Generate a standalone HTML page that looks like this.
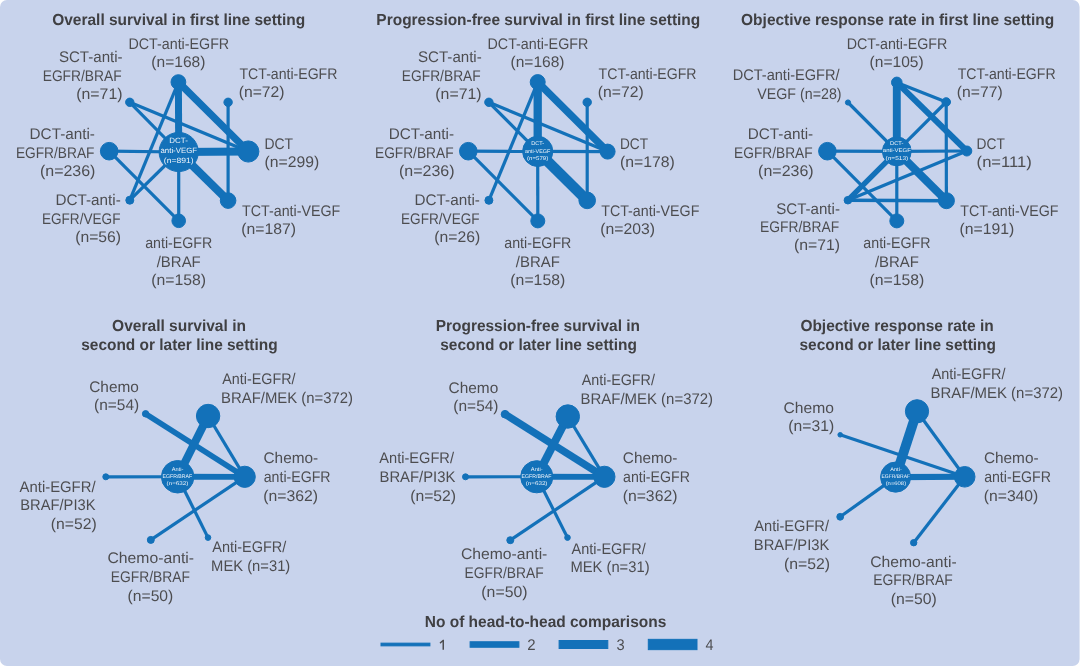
<!DOCTYPE html>
<html><head><meta charset="utf-8"><title>Network plots</title>
<style>
html,body{margin:0;padding:0;background:#ffffff;}
body{width:1080px;height:666px;overflow:hidden;font-family:"Liberation Sans",sans-serif;}
svg{display:block;will-change:transform;transform:translateZ(0);}
text{font-family:"Liberation Sans",sans-serif;text-rendering:geometricPrecision;}
.l{font-size:15.4px;fill:#4d4d50;}
.t{font-size:16px;font-weight:bold;fill:#404043;}
.c{fill:#eef4fb;}
</style></head><body>
<svg width="1080" height="666" viewBox="0 0 1080 666">
<rect x="0" y="0" width="1079.6" height="666" rx="7" ry="7" fill="#c8d3ec"/>
<g stroke="#1371b9" fill="#1371b9" stroke-linecap="butt">
<line x1="178.4" y1="82.1" x2="178.7" y2="152.0" stroke-width="7.0"/>
<line x1="178.4" y1="82.1" x2="248.3" y2="151.5" stroke-width="7.2"/>
<line x1="178.7" y1="152.0" x2="248.3" y2="151.5" stroke-width="8.1"/>
<line x1="178.7" y1="152.0" x2="228.1" y2="200.6" stroke-width="8.1"/>
<line x1="178.4" y1="82.1" x2="129.8" y2="200.2" stroke-width="3.2"/>
<line x1="129.8" y1="102.3" x2="248.3" y2="151.5" stroke-width="3.2"/>
<line x1="129.8" y1="102.3" x2="178.7" y2="152.0" stroke-width="3.2"/>
<line x1="228.1" y1="102.3" x2="228.1" y2="200.6" stroke-width="3.2"/>
<line x1="109.2" y1="151.2" x2="178.7" y2="152.0" stroke-width="3.2"/>
<line x1="109.2" y1="151.2" x2="178.7" y2="220.8" stroke-width="3.2"/>
<line x1="129.8" y1="200.2" x2="178.7" y2="152.0" stroke-width="3.2"/>
<line x1="178.7" y1="152.0" x2="178.7" y2="220.8" stroke-width="3.2"/>
<circle cx="178.4" cy="82.1" r="7.4"/>
<circle cx="129.8" cy="102.3" r="4.2"/>
<circle cx="228.1" cy="102.3" r="4.2"/>
<circle cx="109.2" cy="151.2" r="8.8"/>
<circle cx="178.7" cy="152.0" r="19.6"/>
<circle cx="248.3" cy="151.5" r="10.6"/>
<circle cx="129.8" cy="200.2" r="4.0"/>
<circle cx="228.1" cy="200.6" r="7.8"/>
<circle cx="178.7" cy="220.8" r="6.8"/>
<line x1="537.7" y1="82.1" x2="537.7" y2="151.4" stroke-width="8.3"/>
<line x1="537.7" y1="82.1" x2="607.6" y2="151.6" stroke-width="7.4"/>
<line x1="537.7" y1="151.4" x2="607.6" y2="151.6" stroke-width="3.2"/>
<line x1="537.7" y1="151.4" x2="587.2" y2="200.4" stroke-width="10.6"/>
<line x1="537.7" y1="82.1" x2="488.9" y2="200.3" stroke-width="3.2"/>
<line x1="488.9" y1="102.3" x2="607.6" y2="151.6" stroke-width="3.2"/>
<line x1="488.9" y1="102.3" x2="537.7" y2="151.4" stroke-width="3.2"/>
<line x1="587.2" y1="102.3" x2="587.2" y2="200.4" stroke-width="3.2"/>
<line x1="468.3" y1="151.2" x2="537.7" y2="151.4" stroke-width="3.2"/>
<line x1="468.3" y1="151.2" x2="537.8" y2="220.9" stroke-width="3.2"/>
<line x1="537.7" y1="151.4" x2="537.8" y2="220.9" stroke-width="3.2"/>
<circle cx="537.7" cy="82.1" r="7.5"/>
<circle cx="488.9" cy="102.3" r="4.2"/>
<circle cx="587.2" cy="102.3" r="4.2"/>
<circle cx="468.3" cy="151.2" r="8.8"/>
<circle cx="537.7" cy="151.4" r="15.1"/>
<circle cx="607.6" cy="151.6" r="7.5"/>
<circle cx="488.9" cy="200.3" r="4.0"/>
<circle cx="587.2" cy="200.4" r="8.3"/>
<circle cx="537.8" cy="220.9" r="7.0"/>
<line x1="896.8" y1="82.4" x2="896.8" y2="151.4" stroke-width="7.9"/>
<line x1="896.8" y1="82.4" x2="966.8" y2="151.0" stroke-width="6.0"/>
<line x1="896.8" y1="82.4" x2="946.2" y2="102.0" stroke-width="3.2"/>
<line x1="946.2" y1="102.0" x2="896.8" y2="151.4" stroke-width="3.2"/>
<line x1="946.2" y1="102.0" x2="946.4" y2="200.7" stroke-width="3.2"/>
<line x1="848.0" y1="102.5" x2="896.8" y2="151.4" stroke-width="3.2"/>
<line x1="827.4" y1="151.2" x2="896.8" y2="151.4" stroke-width="3.2"/>
<line x1="827.4" y1="151.2" x2="896.8" y2="220.9" stroke-width="3.2"/>
<line x1="896.8" y1="151.4" x2="966.8" y2="151.0" stroke-width="3.2"/>
<line x1="896.8" y1="151.4" x2="946.4" y2="200.7" stroke-width="8.1"/>
<line x1="847.9" y1="200.2" x2="896.8" y2="151.4" stroke-width="5.4"/>
<line x1="847.9" y1="200.2" x2="966.8" y2="151.0" stroke-width="3.2"/>
<line x1="847.9" y1="200.2" x2="946.4" y2="200.7" stroke-width="3.6"/>
<line x1="896.8" y1="151.4" x2="896.8" y2="220.9" stroke-width="3.2"/>
<circle cx="896.8" cy="82.4" r="5.3"/>
<circle cx="848.0" cy="102.5" r="2.6"/>
<circle cx="946.2" cy="102.0" r="4.3"/>
<circle cx="827.4" cy="151.2" r="8.8"/>
<circle cx="896.8" cy="151.4" r="14.4"/>
<circle cx="966.8" cy="151.0" r="5.0"/>
<circle cx="847.9" cy="200.2" r="3.8"/>
<circle cx="946.4" cy="200.7" r="8.0"/>
<circle cx="896.8" cy="220.9" r="7.0"/>
<line x1="145.6" y1="413.8" x2="244.7" y2="476.8" stroke-width="5.6"/>
<line x1="208.1" y1="416.0" x2="177.65" y2="476.75" stroke-width="8.1"/>
<line x1="208.1" y1="416.0" x2="244.7" y2="476.8" stroke-width="3.2"/>
<line x1="177.65" y1="476.75" x2="244.7" y2="476.8" stroke-width="5.8"/>
<line x1="105.8" y1="476.8" x2="177.65" y2="476.75" stroke-width="3.2"/>
<line x1="150.8" y1="539.9" x2="244.7" y2="476.8" stroke-width="3.2"/>
<line x1="177.65" y1="476.75" x2="208.0" y2="537.6" stroke-width="3.2"/>
<circle cx="145.6" cy="413.8" r="3.2"/>
<circle cx="208.1" cy="416.0" r="11.7"/>
<circle cx="177.65" cy="476.75" r="16.25"/>
<circle cx="244.7" cy="476.8" r="10.6"/>
<circle cx="105.8" cy="476.8" r="3.0"/>
<circle cx="150.8" cy="539.9" r="3.5"/>
<circle cx="208.0" cy="537.6" r="2.8"/>
<line x1="505.0" y1="414.2" x2="604.4" y2="476.8" stroke-width="7.4"/>
<line x1="567.8" y1="416.5" x2="536.75" y2="476.75" stroke-width="8.1"/>
<line x1="567.8" y1="416.5" x2="604.4" y2="476.8" stroke-width="3.2"/>
<line x1="536.75" y1="476.75" x2="604.4" y2="476.8" stroke-width="5.8"/>
<line x1="465.5" y1="476.8" x2="536.75" y2="476.75" stroke-width="3.2"/>
<line x1="510.3" y1="540.2" x2="604.4" y2="476.8" stroke-width="3.2"/>
<line x1="536.75" y1="476.75" x2="567.5" y2="537.6" stroke-width="3.2"/>
<circle cx="505.0" cy="414.2" r="3.8"/>
<circle cx="567.8" cy="416.5" r="11.7"/>
<circle cx="536.75" cy="476.75" r="16.1"/>
<circle cx="604.4" cy="476.8" r="10.6"/>
<circle cx="465.5" cy="476.8" r="3.0"/>
<circle cx="510.3" cy="540.2" r="3.5"/>
<circle cx="567.5" cy="537.6" r="2.8"/>
<line x1="840.2" y1="434.8" x2="964.7" y2="476.8" stroke-width="3.2"/>
<line x1="917.0" y1="411.3" x2="895.6" y2="477.1" stroke-width="9.8"/>
<line x1="917.0" y1="411.3" x2="964.7" y2="476.8" stroke-width="3.2"/>
<line x1="895.6" y1="477.1" x2="964.7" y2="476.8" stroke-width="6.1"/>
<line x1="840.2" y1="516.8" x2="895.6" y2="477.1" stroke-width="3.2"/>
<line x1="913.7" y1="542.7" x2="964.7" y2="476.8" stroke-width="3.2"/>
<circle cx="840.2" cy="434.8" r="2.3"/>
<circle cx="917.0" cy="411.3" r="11.6"/>
<circle cx="895.6" cy="477.1" r="15.05"/>
<circle cx="964.7" cy="476.8" r="10.3"/>
<circle cx="840.2" cy="516.8" r="3.4"/>
<circle cx="913.7" cy="542.7" r="3.2"/>
<rect x="381.0" y="643.15" width="48.89999999999998" height="2.7"/>
<rect x="470.1" y="641.75" width="48.799999999999955" height="5.5"/>
<rect x="559.1" y="640.5" width="48.69999999999993" height="8.0"/>
<rect x="648.3" y="639.35" width="48.700000000000045" height="10.3"/>
</g>
<g opacity="0.999">
<text class="t" x="52.18" y="25.30" textLength="253.06" lengthAdjust="spacingAndGlyphs">Overall survival in first line setting</text>
<text class="l" x="128.46" y="48.80" textLength="100.74" lengthAdjust="spacingAndGlyphs">DCT-anti-EGFR</text>
<text class="l" x="151.37" y="66.60" textLength="54.06" lengthAdjust="spacingAndGlyphs">(n=168)</text>
<text class="l" x="58.90" y="62.20" textLength="63.75" lengthAdjust="spacingAndGlyphs">SCT-anti-</text>
<text class="l" x="42.70" y="80.70" textLength="78.93" lengthAdjust="spacingAndGlyphs">EGFR/BRAF</text>
<text class="l" x="76.25" y="99.10" textLength="46.29" lengthAdjust="spacingAndGlyphs">(n=71)</text>
<text class="l" x="239.52" y="79.30" textLength="97.88" lengthAdjust="spacingAndGlyphs">TCT-anti-EGFR</text>
<text class="l" x="238.66" y="97.40" textLength="45.88" lengthAdjust="spacingAndGlyphs">(n=72)</text>
<text class="l" x="29.58" y="138.90" textLength="65.38" lengthAdjust="spacingAndGlyphs">DCT-anti-</text>
<text class="l" x="15.90" y="157.60" textLength="78.52" lengthAdjust="spacingAndGlyphs">EGFR/BRAF</text>
<text class="l" x="39.94" y="176.20" textLength="55.51" lengthAdjust="spacingAndGlyphs">(n=236)</text>
<text class="l" x="264.49" y="148.50" textLength="28.60" lengthAdjust="spacingAndGlyphs">DCT</text>
<text class="l" x="264.56" y="166.60" textLength="54.68" lengthAdjust="spacingAndGlyphs">(n=299)</text>
<text class="l" x="55.48" y="205.00" textLength="65.28" lengthAdjust="spacingAndGlyphs">DCT-anti-</text>
<text class="l" x="41.91" y="223.50" textLength="78.61" lengthAdjust="spacingAndGlyphs">EGFR/VEGF</text>
<text class="l" x="75.16" y="242.00" textLength="45.88" lengthAdjust="spacingAndGlyphs">(n=56)</text>
<text class="l" x="242.12" y="216.10" textLength="98.12" lengthAdjust="spacingAndGlyphs">TCT-anti-VEGF</text>
<text class="l" x="241.25" y="234.40" textLength="54.78" lengthAdjust="spacingAndGlyphs">(n=187)</text>
<text class="l" x="145.13" y="248.10" textLength="67.17" lengthAdjust="spacingAndGlyphs">anti-EGFR</text>
<text class="l" x="156.70" y="267.40" textLength="44.06" lengthAdjust="spacingAndGlyphs">/BRAF</text>
<text class="l" x="151.25" y="284.90" textLength="54.89" lengthAdjust="spacingAndGlyphs">(n=158)</text>
<text class="t" x="376.37" y="25.30" textLength="323.87" lengthAdjust="spacingAndGlyphs">Progression-free survival in first line setting</text>
<text class="l" x="487.56" y="48.80" textLength="100.74" lengthAdjust="spacingAndGlyphs">DCT-anti-EGFR</text>
<text class="l" x="510.47" y="66.60" textLength="54.06" lengthAdjust="spacingAndGlyphs">(n=168)</text>
<text class="l" x="418.00" y="62.20" textLength="63.75" lengthAdjust="spacingAndGlyphs">SCT-anti-</text>
<text class="l" x="401.80" y="80.70" textLength="78.93" lengthAdjust="spacingAndGlyphs">EGFR/BRAF</text>
<text class="l" x="435.35" y="99.10" textLength="46.29" lengthAdjust="spacingAndGlyphs">(n=71)</text>
<text class="l" x="598.62" y="79.30" textLength="97.88" lengthAdjust="spacingAndGlyphs">TCT-anti-EGFR</text>
<text class="l" x="597.76" y="97.40" textLength="45.88" lengthAdjust="spacingAndGlyphs">(n=72)</text>
<text class="l" x="388.68" y="138.90" textLength="65.38" lengthAdjust="spacingAndGlyphs">DCT-anti-</text>
<text class="l" x="375.00" y="157.60" textLength="78.52" lengthAdjust="spacingAndGlyphs">EGFR/BRAF</text>
<text class="l" x="399.04" y="176.20" textLength="55.51" lengthAdjust="spacingAndGlyphs">(n=236)</text>
<text class="l" x="414.58" y="205.00" textLength="65.28" lengthAdjust="spacingAndGlyphs">DCT-anti-</text>
<text class="l" x="401.01" y="223.50" textLength="78.61" lengthAdjust="spacingAndGlyphs">EGFR/VEGF</text>
<text class="l" x="434.26" y="242.00" textLength="45.88" lengthAdjust="spacingAndGlyphs">(n=26)</text>
<text class="l" x="601.22" y="216.10" textLength="98.12" lengthAdjust="spacingAndGlyphs">TCT-anti-VEGF</text>
<text class="l" x="600.35" y="234.40" textLength="54.78" lengthAdjust="spacingAndGlyphs">(n=203)</text>
<text class="l" x="504.23" y="248.10" textLength="67.17" lengthAdjust="spacingAndGlyphs">anti-EGFR</text>
<text class="l" x="515.80" y="267.40" textLength="44.06" lengthAdjust="spacingAndGlyphs">/BRAF</text>
<text class="l" x="510.35" y="284.90" textLength="54.89" lengthAdjust="spacingAndGlyphs">(n=158)</text>
<text class="l" x="619.91" y="148.60" textLength="28.08" lengthAdjust="spacingAndGlyphs">DCT</text>
<text class="l" x="619.95" y="166.70" textLength="54.89" lengthAdjust="spacingAndGlyphs">(n=178)</text>
<text class="t" x="741.08" y="25.30" textLength="313.16" lengthAdjust="spacingAndGlyphs">Objective response rate in first line setting</text>
<text class="l" x="846.66" y="48.80" textLength="100.74" lengthAdjust="spacingAndGlyphs">DCT-anti-EGFR</text>
<text class="l" x="869.57" y="66.60" textLength="54.06" lengthAdjust="spacingAndGlyphs">(n=105)</text>
<text class="l" x="957.72" y="79.30" textLength="97.88" lengthAdjust="spacingAndGlyphs">TCT-anti-EGFR</text>
<text class="l" x="956.86" y="97.40" textLength="45.88" lengthAdjust="spacingAndGlyphs">(n=77)</text>
<text class="l" x="747.78" y="138.90" textLength="65.38" lengthAdjust="spacingAndGlyphs">DCT-anti-</text>
<text class="l" x="734.10" y="157.60" textLength="78.52" lengthAdjust="spacingAndGlyphs">EGFR/BRAF</text>
<text class="l" x="758.14" y="176.20" textLength="55.51" lengthAdjust="spacingAndGlyphs">(n=236)</text>
<text class="l" x="960.32" y="216.10" textLength="98.12" lengthAdjust="spacingAndGlyphs">TCT-anti-VEGF</text>
<text class="l" x="959.45" y="234.40" textLength="54.78" lengthAdjust="spacingAndGlyphs">(n=191)</text>
<text class="l" x="863.33" y="248.10" textLength="67.17" lengthAdjust="spacingAndGlyphs">anti-EGFR</text>
<text class="l" x="874.90" y="267.40" textLength="44.06" lengthAdjust="spacingAndGlyphs">/BRAF</text>
<text class="l" x="869.45" y="284.90" textLength="54.89" lengthAdjust="spacingAndGlyphs">(n=158)</text>
<text class="l" x="732.63" y="80.20" textLength="106.93" lengthAdjust="spacingAndGlyphs">DCT-anti-EGFR/</text>
<text class="l" x="757.30" y="98.50" textLength="84.25" lengthAdjust="spacingAndGlyphs">VEGF (n=28)</text>
<text class="l" x="976.50" y="148.50" textLength="28.29" lengthAdjust="spacingAndGlyphs">DCT</text>
<text class="l" x="976.60" y="166.60" textLength="55.28" lengthAdjust="spacingAndGlyphs">(n=111)</text>
<text class="l" x="776.20" y="213.60" textLength="63.75" lengthAdjust="spacingAndGlyphs">SCT-anti-</text>
<text class="l" x="760.09" y="231.90" textLength="79.13" lengthAdjust="spacingAndGlyphs">EGFR/BRAF</text>
<text class="l" x="794.05" y="250.20" textLength="46.08" lengthAdjust="spacingAndGlyphs">(n=71)</text>
<text class="t" x="112.08" y="330.60" textLength="133.87" lengthAdjust="spacingAndGlyphs">Overall survival in</text>
<text class="t" x="81.24" y="349.60" textLength="196.40" lengthAdjust="spacingAndGlyphs">second or later line setting</text>
<text class="l" x="89.23" y="391.50" textLength="49.63" lengthAdjust="spacingAndGlyphs">Chemo</text>
<text class="l" x="94.07" y="410.05" textLength="45.04" lengthAdjust="spacingAndGlyphs">(n=54)</text>
<text class="l" x="222.30" y="384.10" textLength="73.17" lengthAdjust="spacingAndGlyphs">Anti-EGFR/</text>
<text class="l" x="221.11" y="403.05" textLength="131.98" lengthAdjust="spacingAndGlyphs">BRAF/MEK (n=372)</text>
<text class="l" x="263.53" y="463.00" textLength="54.63" lengthAdjust="spacingAndGlyphs">Chemo-</text>
<text class="l" x="263.73" y="481.95" textLength="66.86" lengthAdjust="spacingAndGlyphs">anti-EGFR</text>
<text class="l" x="263.35" y="500.90" textLength="54.78" lengthAdjust="spacingAndGlyphs">(n=362)</text>
<text class="l" x="19.60" y="491.50" textLength="75.97" lengthAdjust="spacingAndGlyphs">Anti-EGFR/</text>
<text class="l" x="20.22" y="510.35" textLength="75.28" lengthAdjust="spacingAndGlyphs">BRAF/PI3K</text>
<text class="l" x="50.76" y="529.20" textLength="45.88" lengthAdjust="spacingAndGlyphs">(n=52)</text>
<text class="l" x="107.51" y="563.10" textLength="86.56" lengthAdjust="spacingAndGlyphs">Chemo-anti-</text>
<text class="l" x="110.79" y="581.85" textLength="79.23" lengthAdjust="spacingAndGlyphs">EGFR/BRAF</text>
<text class="l" x="127.56" y="601.30" textLength="45.77" lengthAdjust="spacingAndGlyphs">(n=50)</text>
<text class="l" x="212.30" y="552.20" textLength="74.07" lengthAdjust="spacingAndGlyphs">Anti-EGFR/</text>
<text class="l" x="211.12" y="571.05" textLength="79.16" lengthAdjust="spacingAndGlyphs">MEK (n=31)</text>
<text class="t" x="435.77" y="330.60" textLength="204.17" lengthAdjust="spacingAndGlyphs">Progression-free survival in</text>
<text class="t" x="440.24" y="349.60" textLength="196.70" lengthAdjust="spacingAndGlyphs">second or later line setting</text>
<text class="l" x="448.53" y="392.50" textLength="49.73" lengthAdjust="spacingAndGlyphs">Chemo</text>
<text class="l" x="453.37" y="411.35" textLength="45.15" lengthAdjust="spacingAndGlyphs">(n=54)</text>
<text class="l" x="581.70" y="384.80" textLength="73.27" lengthAdjust="spacingAndGlyphs">Anti-EGFR/</text>
<text class="l" x="580.50" y="403.65" textLength="132.59" lengthAdjust="spacingAndGlyphs">BRAF/MEK (n=372)</text>
<text class="l" x="622.83" y="463.00" textLength="54.63" lengthAdjust="spacingAndGlyphs">Chemo-</text>
<text class="l" x="623.03" y="481.95" textLength="66.86" lengthAdjust="spacingAndGlyphs">anti-EGFR</text>
<text class="l" x="622.65" y="500.90" textLength="54.78" lengthAdjust="spacingAndGlyphs">(n=362)</text>
<text class="l" x="379.30" y="463.10" textLength="74.67" lengthAdjust="spacingAndGlyphs">Anti-EGFR/</text>
<text class="l" x="379.51" y="482.05" textLength="75.89" lengthAdjust="spacingAndGlyphs">BRAF/PI3K</text>
<text class="l" x="410.15" y="500.90" textLength="45.98" lengthAdjust="spacingAndGlyphs">(n=52)</text>
<text class="l" x="460.91" y="558.80" textLength="86.46" lengthAdjust="spacingAndGlyphs">Chemo-anti-</text>
<text class="l" x="464.59" y="577.65" textLength="79.13" lengthAdjust="spacingAndGlyphs">EGFR/BRAF</text>
<text class="l" x="481.35" y="596.60" textLength="46.19" lengthAdjust="spacingAndGlyphs">(n=50)</text>
<text class="l" x="571.60" y="553.50" textLength="74.07" lengthAdjust="spacingAndGlyphs">Anti-EGFR/</text>
<text class="l" x="570.42" y="572.35" textLength="79.16" lengthAdjust="spacingAndGlyphs">MEK (n=31)</text>
<text class="t" x="800.38" y="330.60" textLength="193.26" lengthAdjust="spacingAndGlyphs">Objective response rate in</text>
<text class="t" x="799.54" y="349.60" textLength="196.40" lengthAdjust="spacingAndGlyphs">second or later line setting</text>
<text class="l" x="783.52" y="413.00" textLength="50.35" lengthAdjust="spacingAndGlyphs">Chemo</text>
<text class="l" x="788.36" y="431.35" textLength="45.77" lengthAdjust="spacingAndGlyphs">(n=31)</text>
<text class="l" x="931.70" y="378.80" textLength="73.77" lengthAdjust="spacingAndGlyphs">Anti-EGFR/</text>
<text class="l" x="930.50" y="397.65" textLength="132.59" lengthAdjust="spacingAndGlyphs">BRAF/MEK (n=372)</text>
<text class="l" x="983.93" y="463.00" textLength="54.63" lengthAdjust="spacingAndGlyphs">Chemo-</text>
<text class="l" x="984.13" y="481.95" textLength="66.86" lengthAdjust="spacingAndGlyphs">anti-EGFR</text>
<text class="l" x="983.76" y="500.90" textLength="54.57" lengthAdjust="spacingAndGlyphs">(n=340)</text>
<text class="l" x="754.30" y="530.80" textLength="74.67" lengthAdjust="spacingAndGlyphs">Anti-EGFR/</text>
<text class="l" x="753.82" y="550.35" textLength="75.59" lengthAdjust="spacingAndGlyphs">BRAF/PI3K</text>
<text class="l" x="784.05" y="569.20" textLength="46.08" lengthAdjust="spacingAndGlyphs">(n=52)</text>
<text class="l" x="870.21" y="566.50" textLength="86.46" lengthAdjust="spacingAndGlyphs">Chemo-anti-</text>
<text class="l" x="873.19" y="585.35" textLength="79.54" lengthAdjust="spacingAndGlyphs">EGFR/BRAF</text>
<text class="l" x="890.75" y="604.20" textLength="46.08" lengthAdjust="spacingAndGlyphs">(n=50)</text>
<text class="t" x="424.77" y="626.90" textLength="241.49" lengthAdjust="spacingAndGlyphs">No of head-to-head comparisons</text>
<text class="l" x="527.15" y="650.30" textLength="8.34" lengthAdjust="spacingAndGlyphs">2</text>
<text class="l" x="616.46" y="650.30" textLength="8.17" lengthAdjust="spacingAndGlyphs">3</text>
<text class="l" x="705.61" y="650.30" textLength="7.96" lengthAdjust="spacingAndGlyphs">4</text>
<path fill="#4d4d50" d="M442.5 649.7 V641.9 L440.2 643.7 L439.6 642.6 L442.9 639.8 H444.0 V649.7 Z"/>
<text class="c" x="169.36" y="142.60" textLength="18.58" lengthAdjust="spacingAndGlyphs" font-size="7.7">DCT-</text>
<text class="c" x="160.54" y="152.50" textLength="36.45" lengthAdjust="spacingAndGlyphs" font-size="7.7">anti-VEGF</text>
<text class="c" x="163.89" y="162.50" textLength="29.77" lengthAdjust="spacingAndGlyphs" font-size="7.7">(n=891)</text>
<text class="c" x="531.16" y="145.30" textLength="12.88" lengthAdjust="spacingAndGlyphs" font-size="5.4">DCT-</text>
<text class="c" x="524.98" y="152.60" textLength="25.39" lengthAdjust="spacingAndGlyphs" font-size="5.4">anti-VEGF</text>
<text class="c" x="527.03" y="159.90" textLength="21.29" lengthAdjust="spacingAndGlyphs" font-size="5.4">(n=579)</text>
<text class="c" x="890.14" y="145.00" textLength="13.30" lengthAdjust="spacingAndGlyphs" font-size="5.4">DCT-</text>
<text class="c" x="882.86" y="152.20" textLength="28.03" lengthAdjust="spacingAndGlyphs" font-size="5.4">anti-VEGF</text>
<text class="c" x="885.56" y="159.90" textLength="22.64" lengthAdjust="spacingAndGlyphs" font-size="5.4">(n=513)</text>
<text class="c" x="171.80" y="471.00" textLength="11.64" lengthAdjust="spacingAndGlyphs" font-size="5.3">Anti-</text>
<text class="c" x="162.48" y="478.20" textLength="29.78" lengthAdjust="spacingAndGlyphs" font-size="5.3">EGFR/BRAF</text>
<text class="c" x="166.57" y="485.40" textLength="21.81" lengthAdjust="spacingAndGlyphs" font-size="5.3">(n=632)</text>
<text class="c" x="530.80" y="471.00" textLength="11.85" lengthAdjust="spacingAndGlyphs" font-size="5.3">Anti-</text>
<text class="c" x="521.58" y="478.20" textLength="29.78" lengthAdjust="spacingAndGlyphs" font-size="5.3">EGFR/BRAF</text>
<text class="c" x="525.67" y="485.40" textLength="21.81" lengthAdjust="spacingAndGlyphs" font-size="5.3">(n=632)</text>
<text class="c" x="890.20" y="471.00" textLength="11.64" lengthAdjust="spacingAndGlyphs" font-size="5.2">Anti-</text>
<text class="c" x="881.45" y="478.10" textLength="28.66" lengthAdjust="spacingAndGlyphs" font-size="5.2">EGFR/BRAF</text>
<text class="c" x="885.65" y="484.80" textLength="20.47" lengthAdjust="spacingAndGlyphs" font-size="5.2">(n=608)</text>
</g>
</svg>
</body></html>
